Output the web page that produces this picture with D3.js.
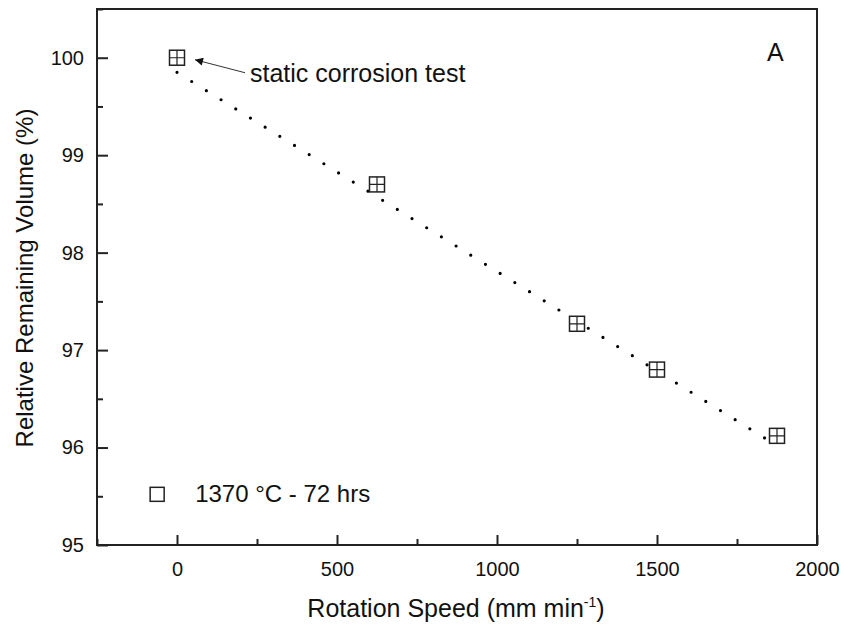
<!DOCTYPE html>
<meta charset="utf-8">
<style>
    html, body {
        margin: 0;
        padding: 0;
        background: #fff;
    }
    svg text {
        font-family: "Liberation Sans", Arial, sans-serif;
        fill: #111;
    }
    .frame {
        fill: none;
        stroke: #222;
        stroke-width: 2px;
    }
    .tick line {
        stroke: #222;
        stroke-width: 2px;
    }
    .marker {
        fill: #fff;
        stroke: #222;
        stroke-width: 1.5px;
    }
</style>
<body>
<div id="chart"></div>
<script src="https://cdn.jsdelivr.net/npm/d3@7"></script>
<script>
    // data
    var speed = [0, 625, 1250, 1500, 1875];
    var volume = [100, 98.7, 97.27, 96.8, 96.12];
    var fitSpeed = [0, 1850];
    var fitVolume = [99.85, 96.07];
    var xTicks = [0, 500, 1000, 1500, 2000];
    var xMinor = [-250, 250, 750, 1250, 1750];
    var yTicks = [95, 96, 97, 98, 99, 100];
    var yMinor = [95.5, 96.5, 97.5, 98.5, 99.5, 100.5];

    var W = 844, H = 630;
    var margin = {top: 9, right: 27, bottom: 85, left: 97},
        width = W - margin.left - margin.right,
        height = H - margin.top - margin.bottom;

    var x = d3.scaleLinear().domain([-250, 2000]).range([0, width]);
    var y = d3.scaleLinear().domain([95, 100.5]).range([height, 0]);

    var svg = d3.select("#chart").append("svg")
        .attr("width", W)
        .attr("height", H);

    var g = svg.append("g")
        .attr("transform", "translate(" + margin.left + "," + margin.top + ")");

    // axes, ticks pointing inward
    var fmt = d3.format("d");
    var xAxis = d3.axisBottom(x).tickValues(xTicks).tickFormat(fmt).tickSizeInner(-10).tickSizeOuter(0).tickPadding(17);
    var xAxisMinor = d3.axisBottom(x).tickValues(xMinor).tickSizeInner(-6).tickSizeOuter(0).tickFormat("");
    var yAxis = d3.axisLeft(y).tickValues(yTicks).tickFormat(fmt).tickSizeInner(-11).tickSizeOuter(0).tickPadding(13);
    var yAxisMinor = d3.axisLeft(y).tickValues(yMinor).tickSizeInner(-6).tickSizeOuter(0).tickFormat("");

    [[xAxis, "x"], [xAxisMinor, "x"], [yAxis, "y"], [yAxisMinor, "y"]].forEach(function(a) {
        var ax = g.append("g")
            .attr("transform", a[1] == "x" ? "translate(0," + height + ")" : null)
            .call(a[0]);
        ax.select(".domain").remove();
        ax.selectAll("text")
            .style("font-size", "20px")
            .attr("fill", "#111");
    });

    g.append("rect")
        .attr("class", "frame")
        .attr("width", width)
        .attr("height", height);

    // dotted fit line
    var fit = fitSpeed.map(function(s, i) { return [s, fitVolume[i]]; });
    g.append("path")
        .datum(fit)
        .attr("fill", "none")
        .attr("stroke", "#000")
        .attr("stroke-width", 3.2)
        .attr("stroke-linecap", "round")
        .attr("stroke-dasharray", "0,17.3")
        .attr("d", d3.line()
            .x(function(d) { return x(d[0]); })
            .y(function(d) { return y(d[1]); }));

    // markers: square with a cross
    var s = 7.5;
    var pts = g.selectAll(".pt")
        .data(speed.map(function(v, i) { return [v, volume[i]]; }))
        .enter().append("g")
        .attr("class", "pt")
        .attr("transform", function(d) { return "translate(" + x(d[0]) + "," + y(d[1]) + ")"; });
    pts.append("rect")
        .attr("class", "marker")
        .attr("x", -s).attr("y", -s)
        .attr("width", 2 * s).attr("height", 2 * s);
    pts.append("path")
        .attr("stroke", "#222")
        .attr("stroke-width", 1.2)
        .attr("d", "M" + (-s) + ",0H" + s + "M0," + (-s) + "V" + s);

    // annotation
    svg.append("defs").append("marker")
        .attr("id", "head")
        .attr("viewBox", "0 0 10 10")
        .attr("refX", 10).attr("refY", 5)
        .attr("markerUnits", "userSpaceOnUse")
        .attr("markerWidth", 15).attr("markerHeight", 8)
        .attr("orient", "auto")
        .append("path")
        .attr("d", "M0,0L10,5L0,10z")
        .attr("fill", "#111");

    var tipX = x(speed[0]) + 18, tipY = y(volume[0]) + 2;
    g.append("line")
        .attr("x1", tipX + 50).attr("y1", tipY + 13)
        .attr("x2", tipX).attr("y2", tipY)
        .attr("stroke", "#333")
        .attr("stroke-width", 1)
        .attr("marker-end", "url(#head)");

    g.append("text")
        .attr("x", tipX + 55)
        .attr("y", tipY + 22)
        .style("font-size", "25px")
        .text("static corrosion test");

    g.append("text")
        .attr("x", width - 50)
        .attr("y", 52)
        .style("font-size", "25px")
        .text("A");

    // legend
    var leg = g.append("g")
        .attr("transform", "translate(" + (x(-62)) + "," + y(95.52) + ")");
    leg.append("rect")
        .attr("class", "marker")
        .attr("x", -7).attr("y", -7)
        .attr("width", 14).attr("height", 14);
    leg.append("text")
        .attr("x", 38)
        .attr("y", 8)
        .style("font-size", "24px")
        .text("1370 \u00b0C - 72 hrs");

    // axis titles
    var xt = svg.append("text")
        .attr("x", margin.left + width / 2 - 1)
        .attr("y", 617)
        .attr("text-anchor", "middle")
        .style("font-size", "25px");
    xt.append("tspan").text("Rotation Speed (mm min");
    xt.append("tspan").attr("dy", -10).style("font-size", "14px").text("-1");
    xt.append("tspan").attr("dy", 10).text(")");

    svg.append("text")
        .attr("transform", "translate(33,278) rotate(-90)")
        .attr("text-anchor", "middle")
        .style("font-size", "24px")
        .text("Relative Remaining Volume (%)");
</script>
</body>
